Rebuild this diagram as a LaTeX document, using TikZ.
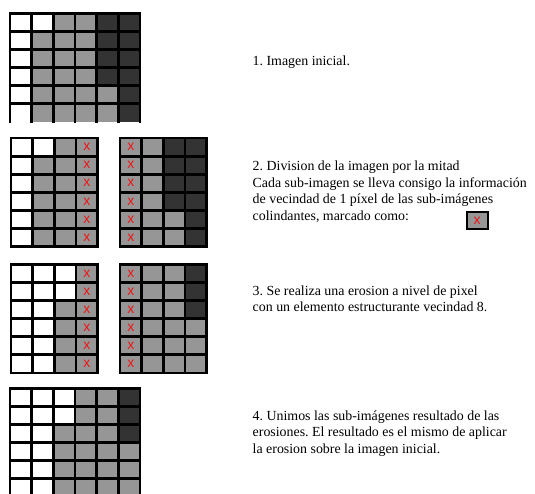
\documentclass[tikz,border=0pt]{standalone}
\usepackage{fontspec}
\setmainfont{Liberation Serif}
\newfontfamily\markfont{Liberation Sans}
\frenchspacing
\definecolor{pixW}{RGB}{255,255,255}
\definecolor{pixG}{RGB}{150,150,150}
\definecolor{pixD}{RGB}{51,51,51}
\definecolor{pixmark}{RGB}{240,20,20}
\newcommand{\cw}{21.67}
\newcommand{\ch}{18.1}
% cells of one picture, rows from top to bottom
\newcommand{\pixcells}[3]{%
  \foreach \r [count=\j from 0] in {#3} {
    \foreach \c [count=\i from 0] in \r
      \fill[fill=pix\c] ({#1+\i*\cw},{#2+\j*\ch}) rectangle ++(\cw,\ch);
  }}
% grid lines: x0, y0, columns, last horizontal line
\newcommand{\pixlines}[4]{%
  \foreach \i in {0,...,#3}
    \draw[gridline] ({#1+\i*\cw},#2) -- ++(0,{6*\ch});
  \foreach \j in {0,...,#4}
    \draw[gridline] (#1,{#2+\j*\ch}) -- ++({#3*\cw},0);
}
\tikzset{
  gridline/.style={line width=2.8pt, line cap=rect},
  xmark/.style={font=\markfont\fontsize{14}{14}\selectfont, text=pixmark, inner sep=0pt},
  steptext/.style={anchor=base west, align=left, inner sep=0pt,
    font=\fontsize{13.9}{16.4}\selectfont},
  legendbox/.style={draw, line width=2.2pt, fill=pixG, minimum width=21pt,
    minimum height=16.5pt, inner sep=0pt}
}
\begin{document}
\begin{tikzpicture}[x=1pt, y=-1pt]
\useasboundingbox (0,0) rectangle (535,493);
% 1. initial image
\pixcells{10}{13.3}{{W,W,G,G,D,D},{W,G,G,G,D,D},{W,G,G,G,D,D},{W,G,G,G,D,D},{W,G,G,G,G,D},{W,G,G,G,G,D}}
\pixlines{10}{13.3}{6}{5}
\node[steptext] (step1) at (252.5,65) {1. Imagen inicial.};
% 2. split in two halves
\pixcells{11}{138}{{W,W,G,G},{W,G,G,G},{W,G,G,G},{W,G,G,G},{W,G,G,G},{W,G,G,G}}
\pixlines{11}{138}{4}{6}
\pixcells{120}{138}{{G,G,D,D},{G,G,D,D},{G,G,D,D},{G,G,D,D},{G,G,G,D},{G,G,G,D}}
\pixlines{120}{138}{4}{6}
\foreach \j in {0,...,5} {
  \node[xmark] (mkl\j) at ({11+3.5*\cw},{138+(\j+0.5)*\ch}) {x};
  \node[xmark] (mkr\j) at ({120+0.5*\cw},{138+(\j+0.5)*\ch}) {x};
}
% base anchor is on the last line
\node[steptext] (step2) at (252.5,220) {2. Division de la imagen por la mitad\\
  Cada sub-imagen se lleva consigo la información\\
  de vecindad de 1 píxel de las sub-imágenes\\
  colindantes, marcado como:};
\node[legendbox] (legend) at (477.2,220.5) {\markfont\fontsize{14}{14}\selectfont\color{pixmark}x};
% 3. erosion of each half
\pixcells{11}{264.3}{{W,W,W,G},{W,W,W,G},{W,W,G,G},{W,W,G,G},{W,W,G,G},{W,W,G,G}}
\pixlines{11}{264.3}{4}{6}
\pixcells{120}{264.3}{{G,G,G,D},{G,G,G,D},{G,G,G,D},{G,G,G,G},{G,G,G,G},{G,G,G,G}}
\pixlines{120}{264.3}{4}{6}
\foreach \j in {0,...,5} {
  \node[xmark] (ekl\j) at ({11+3.5*\cw},{264.3+(\j+0.5)*\ch}) {x};
  \node[xmark] (ekr\j) at ({120+0.5*\cw},{264.3+(\j+0.5)*\ch}) {x};
}
\node[steptext] (step3) at (252.5,311.7) {3. Se realiza una erosion a nivel de pixel\\
  con un elemento estructurante vecindad 8.};
% 4. joined result
\pixcells{10}{388.3}{{W,W,W,G,G,D},{W,W,W,G,G,D},{W,W,G,G,G,D},{W,W,G,G,G,G},{W,W,G,G,G,G},{W,W,G,G,G,G}}
\pixlines{10}{388.3}{6}{5}
\node[steptext] (step4) at (252.5,453.3) {4. Unimos las sub-imágenes resultado de las\\
  erosiones. El resultado es el mismo de aplicar\\
  la erosion sobre la imagen inicial.};
\end{tikzpicture}
\end{document}
